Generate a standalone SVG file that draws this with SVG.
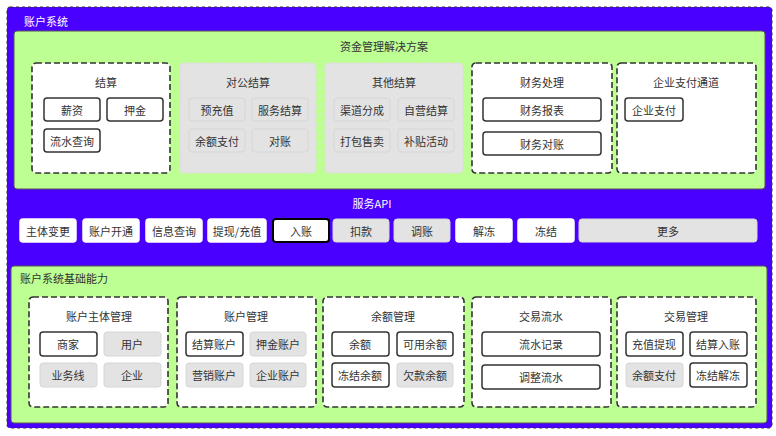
<svg xmlns="http://www.w3.org/2000/svg" width="776" height="436" viewBox="0 0 776 436">
<style>
text{font-family:"Noto Sans CJK SC","Liberation Sans",sans-serif;font-size:11px;fill:#333;text-anchor:middle;dominant-baseline:central}
.outer{fill:#4a00ff;stroke:#333;stroke-dasharray:3 3;stroke-width:1}
.green{fill:#bdff93;stroke:#555;stroke-width:1}
.box{fill:#fff;stroke:#333;stroke-width:1.6;stroke-dasharray:6 3}
.gbox{fill:#e3e3e3;stroke:#ddd;stroke-width:1.2;stroke-dasharray:6 3}
.w{fill:#fff;stroke:#333;stroke-width:1.5}
.g{fill:#e3e3e3;stroke:#d6d6d6;stroke-width:1}
.wt{fill:#fff}
</style>
<rect class="outer" x="7" y="7" width="765" height="421" rx="3"/>
<text x="24" y="21" class="wt" style="text-anchor:start">账户系统</text>
<g id="solutions">
<rect class="green" x="14" y="31" width="751" height="158" rx="3"/>
<text x="384" y="46">资金管理解决方案</text>
</g>
<g id="jiesuan"><rect class="box" x="32" y="63" width="138" height="110" rx="4"/><text x="106" y="82">结算</text>
<rect class="w" x="44" y="98" width="56" height="23" rx="3"/><text x="72" y="110">薪资</text>
<rect class="w" x="107" y="98" width="56" height="23" rx="3"/><text x="135" y="110">押金</text>
<rect class="w" x="44" y="129" width="56" height="23" rx="3"/><text x="72" y="141">流水查询</text></g>
<g id="duigong"><rect class="gbox" x="180" y="63" width="136" height="110" rx="4"/><text x="248" y="82">对公结算</text>
<rect class="g" x="189" y="98" width="56" height="23" rx="3"/><text x="217" y="110">预充值</text>
<rect class="g" x="252" y="98" width="56" height="23" rx="3"/><text x="280" y="110">服务结算</text>
<rect class="g" x="189" y="129" width="56" height="23" rx="3"/><text x="217" y="141">余额支付</text>
<rect class="g" x="252" y="129" width="56" height="23" rx="3"/><text x="280" y="141">对账</text></g>
<g id="qita"><rect class="gbox" x="325" y="63" width="138" height="110" rx="4"/><text x="394" y="82">其他结算</text>
<rect class="g" x="334" y="98" width="56" height="23" rx="3"/><text x="362" y="110">渠道分成</text>
<rect class="g" x="398" y="98" width="56" height="23" rx="3"/><text x="426" y="110">自营结算</text>
<rect class="g" x="334" y="129" width="56" height="23" rx="3"/><text x="362" y="141">打包售卖</text>
<rect class="g" x="398" y="129" width="56" height="23" rx="3"/><text x="426" y="141">补贴活动</text></g>
<g id="caiwu"><rect class="box" x="472" y="63" width="140" height="110" rx="4"/><text x="542" y="82">财务处理</text>
<rect class="w" x="483" y="98" width="118" height="23" rx="3"/><text x="542" y="110">财务报表</text>
<rect class="w" x="483" y="132" width="118" height="23" rx="3"/><text x="542" y="144">财务对账</text></g>
<g id="qiye"><rect class="box" x="617" y="63" width="139" height="110" rx="4"/><text x="686" y="82">企业支付通道</text>
<rect class="w" x="625" y="98" width="58" height="23" rx="3"/><text x="654" y="110">企业支付</text></g>
<g id="api">
<text x="372" y="203" class="wt">服务API</text>
<rect class="w" x="20" y="219" width="56" height="23" rx="3" style="stroke:#fff"/><text x="48" y="231">主体变更</text>
<rect class="w" x="83" y="219" width="56" height="23" rx="3" style="stroke:#fff"/><text x="111" y="231">账户开通</text>
<rect class="w" x="146" y="219" width="56" height="23" rx="3" style="stroke:#fff"/><text x="174" y="231">信息查询</text>
<rect class="w" x="208" y="219" width="58" height="23" rx="3" style="stroke:#fff"/><text x="237" y="231">提现/充值</text>
<rect class="w" x="273" y="219" width="56" height="23" rx="3" style="stroke:#000;stroke-width:2"/><text x="301" y="231">入账</text>
<rect class="g" x="333" y="219" width="56" height="23" rx="3"/><text x="361" y="231">扣款</text>
<rect class="g" x="394" y="219" width="56" height="23" rx="3"/><text x="422" y="231">调账</text>
<rect class="w" x="456" y="219" width="56" height="23" rx="3" style="stroke:#fff"/><text x="484" y="231">解冻</text>
<rect class="w" x="518" y="219" width="56" height="23" rx="3" style="stroke:#fff"/><text x="546" y="231">冻结</text>
<rect class="g" x="579" y="219" width="178" height="23" rx="3"/><text x="668" y="231">更多</text>
</g>
<g id="base">
<rect class="green" x="11" y="266" width="756" height="157" rx="3"/>
<text x="20" y="278" style="text-anchor:start">账户系统基础能力</text>
</g>
<g id="zhuti"><rect class="box" x="29" y="297" width="139" height="110" rx="4"/><text x="99" y="316">账户主体管理</text>
<rect class="w" x="40" y="332" width="57" height="24" rx="3"/><text x="68" y="344">商家</text>
<rect class="g" x="104" y="332" width="57" height="24" rx="3"/><text x="132" y="344">用户</text>
<rect class="g" x="40" y="363" width="57" height="24" rx="3"/><text x="68" y="375">业务线</text>
<rect class="g" x="104" y="363" width="57" height="24" rx="3"/><text x="132" y="375">企业</text></g>
<g id="zhanghu"><rect class="box" x="177" y="297" width="139" height="110" rx="4"/><text x="246" y="316">账户管理</text>
<rect class="w" x="186" y="332" width="57" height="24" rx="3"/><text x="214" y="344">结算账户</text>
<rect class="g" x="250" y="332" width="56" height="24" rx="3"/><text x="278" y="344">押金账户</text>
<rect class="g" x="186" y="363" width="57" height="24" rx="3"/><text x="214" y="375">营销账户</text>
<rect class="g" x="250" y="363" width="56" height="24" rx="3"/><text x="278" y="375">企业账户</text></g>
<g id="yue"><rect class="box" x="323" y="297" width="141" height="110" rx="4"/><text x="393" y="316">余额管理</text>
<rect class="w" x="332" y="332" width="57" height="24" rx="3"/><text x="360" y="344">余额</text>
<rect class="w" x="397" y="332" width="56" height="24" rx="3"/><text x="425" y="344">可用余额</text>
<rect class="w" x="332" y="363" width="57" height="24" rx="3"/><text x="360" y="375">冻结余额</text>
<rect class="g" x="397" y="363" width="56" height="24" rx="3"/><text x="425" y="375">欠款余额</text></g>
<g id="liushui"><rect class="box" x="472" y="297" width="139" height="110" rx="4"/><text x="541" y="316">交易流水</text>
<rect class="w" x="482" y="332" width="118" height="24" rx="3"/><text x="541" y="344">流水记录</text>
<rect class="w" x="482" y="365" width="118" height="24" rx="3"/><text x="541" y="377">调整流水</text></g>
<g id="jiaoyi"><rect class="box" x="617" y="297" width="139" height="110" rx="4"/><text x="686" y="316">交易管理</text>
<rect class="w" x="626" y="332" width="57" height="24" rx="3"/><text x="654" y="344">充值提现</text>
<rect class="w" x="690" y="332" width="57" height="24" rx="3"/><text x="718" y="344">结算入账</text>
<rect class="g" x="626" y="363" width="57" height="24" rx="3"/><text x="654" y="375">余额支付</text>
<rect class="w" x="690" y="363" width="57" height="24" rx="3"/><text x="718" y="375">冻结解冻</text></g>
<g id="connectors"/>
</svg>
